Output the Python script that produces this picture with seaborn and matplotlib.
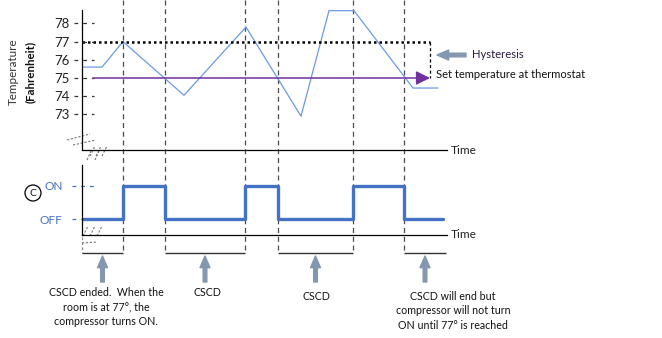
import matplotlib
matplotlib.use("Agg")
import matplotlib.pyplot as plt
import seaborn as sns
import pandas as pd
from matplotlib.patches import Circle

sns.set_theme(style="white")
plt.rcParams['font.family'] = ['Lato', 'DejaVu Sans']

# ---------------- data ----------------
temp_time = [0, 20, 41, 102, 164, 219, 247, 272, 331, 356]
temp_vals = [75.6, 75.6, 77.0, 74.05, 77.8, 72.9, 78.7, 78.7, 74.45, 74.45]
temp_ticks = [73, 74, 75, 76, 77, 78]
set_temp = 75
upper_temp = 77
setline_start, setline_end = 11, 348

switch_times = [41, 83, 163, 196, 271, 322]
comp_time = [0, 41, 83, 163, 196, 271, 322, 361]
comp_state = [0, 1, 0, 1, 0, 1, 0, 0]
state_labels = ["OFF", "ON"]

cscd_windows = [(0, 41), (83, 163), (196, 271), (322, 364)]
notes = ["CSCD ended.  When the\nroom is at 77°, the\ncompressor turns ON.",
         "CSCD", "CSCD",
         "CSCD will end but\ncompressor will not turn\nON until 77° is reached"]
note_x = [24, 125, 234, 371]
note_y = [307, 293, 297, 311]

W, H = 662, 338
X0 = 82          # pixel of time zero
TMAX = 365

fig = plt.figure(figsize=(W / 100, H / 100), dpi=100)
fig.patch.set_facecolor("white")

# overlay axes in (time, pixel-y) coordinates
ov = fig.add_axes([0, 0, 1, 1])
ov.set_xlim(-X0, W - X0)
ov.set_ylim(H, 0)
ov.axis("off")

def pxbox(top, bottom):
    return [X0 / W, 1 - bottom / H, TMAX / W, (bottom - top) / H]

ARROW = "simple,head_width=0.6,head_length=0.7,tail_width=0.22"

# ---------------- temperature panel ----------------
ax1 = fig.add_axes(pxbox(5, 150))
ax1.set_facecolor("none")
px_per_deg = 18.2
ax1.set_xlim(0, TMAX)
ax1.set_ylim(set_temp - (150 - 78) / px_per_deg, set_temp + (78 - 5) / px_per_deg)
df_t = pd.DataFrame({"time": temp_time, "temp": temp_vals})
sns.lineplot(data=df_t, x="time", y="temp", ax=ax1, color="#6A9BE0", lw=0.9, sort=False)
ax1.plot([0, setline_end], [upper_temp, upper_temp], color="black",
         ls=(0, (1, 1.2)), lw=1.8)
ax1.plot([setline_end, setline_end], [upper_temp, set_temp], color="black",
         ls=(0, (2.5, 2)), lw=0.9)
ax1.annotate("", xy=(setline_end, set_temp), xytext=(setline_start, set_temp),
             arrowprops=dict(arrowstyle="-|>,head_length=0.7,head_width=0.35", color="#7030A0",
                             lw=1.1, shrinkA=0, shrinkB=0))
for s in ["top", "right"]:
    ax1.spines[s].set_visible(False)
for s in ["left", "bottom"]:
    ax1.spines[s].set_color("black")
    ax1.spines[s].set_linewidth(0.9)
ax1.spines["left"].set_bounds(ax1.get_ylim()[0], set_temp + (78 - 10) / px_per_deg)
ax1.set_yticks(temp_ticks)
ax1.set_yticklabels([str(t) for t in temp_ticks])
ax1.tick_params(axis="y", length=0, pad=9, labelsize=9.5, labelcolor="#222222")
ax1.set_xticks([])
ax1.set_xlabel("")
ax1.set_ylabel("")
ytr = ax1.get_yaxis_transform()
ax1.hlines(temp_ticks, -8 / TMAX, 12 / TMAX, transform=ytr, colors="#333333",
           lw=0.9, linestyles=(0, (3, 4)), clip_on=False)
ax1.text(TMAX + 4, ax1.get_ylim()[0], "Time", fontsize=8.6, va="center", ha="left",
         color="#222222")

# ---------------- compressor panel ----------------
ax2 = fig.add_axes(pxbox(165, 235))
ax2.set_facecolor("none")
px_per_state = 33
ax2.set_xlim(0, TMAX)
ax2.set_ylim(0 - (235 - 219) / px_per_state, 1 + (186 - 165) / px_per_state)
df_c = pd.DataFrame({"time": comp_time, "state": comp_state})
sns.lineplot(data=df_c, x="time", y="state", ax=ax2, color="#4472C4", lw=2.4,
             drawstyle="steps-post", sort=False)
for s in ["top", "right"]:
    ax2.spines[s].set_visible(False)
for s in ["left", "bottom"]:
    ax2.spines[s].set_color("black")
    ax2.spines[s].set_linewidth(0.9)
ax2.set_yticks([0, 1])
ax2.set_yticklabels(state_labels)
ax2.tick_params(axis="y", length=0, pad=14, labelsize=8.6, labelcolor="#4472C4")
ax2.set_xticks([])
ax2.set_xlabel("")
ax2.set_ylabel("")
ytr2 = ax2.get_yaxis_transform()
ax2.hlines([0, 1], -10 / TMAX, 14 / TMAX, transform=ytr2, colors="#4472C4",
           lw=0.9, linestyles=(0, (3, 4)), clip_on=False)
ax2.text(TMAX + 4, ax2.get_ylim()[0], "Time", fontsize=8.6, va="center", ha="left",
         color="#222222")

# ---------------- overlay decorations ----------------
ov.vlines(switch_times, 0, 253, colors="#4a4a4a", lw=0.9, linestyles=(0, (4, 3)))
ov.vlines([0], 237, 253, colors="#888888", lw=0.9, linestyles=(0, (2, 2)))
for a, b in cscd_windows:
    ov.hlines(253, a, b, colors="#333333", lw=1.0)
    m = (a + b) / 2
    ov.annotate("", xy=(m, 256), xytext=(m, 282),
                arrowprops=dict(arrowstyle=ARROW, color="#8497B0", shrinkA=0, shrinkB=0))
for txt, x, y in zip(notes, note_x, note_y):
    ov.text(x, y, txt, ha="center", va="center", fontsize=7.7, color="#111111",
            linespacing=1.35)

ov.annotate("", xy=(437 - X0, 55), xytext=(466 - X0, 55),
            arrowprops=dict(arrowstyle=ARROW, color="#8497B0", shrinkA=0, shrinkB=0))
ov.text(472 - X0, 54, "Hysteresis", fontsize=8.1, va="center", ha="left", color="#2a1a40")
ov.text(436 - X0, 75, "Set temperature at thermostat", fontsize=8.0, va="center", ha="left",
        color="#111111")

# axis labels
fig.text(13 / W, 1 - 72 / H, "Temperature", rotation=90, ha="center", va="center",
         fontsize=8.4, color="#333333")
fig.text(30 / W, 1 - 72 / H, "(Fahrenheit)", rotation=90, ha="center", va="center",
         fontsize=8.3, fontweight="bold", color="#111111")

# compressor symbol
ov.add_patch(Circle((33 - X0, 193), 8, fill=False, ec="black", lw=0.9))
ov.text(33 - X0, 193.5, "C", ha="center", va="center", fontsize=7.5, color="#111111")

# axis break marks
brk = dict(color="#777777", lw=0.8, ls=(0, (2, 1.5)))
ov.plot([67 - X0, 90 - X0], [140, 134], **brk)
ov.plot([73 - X0, 96 - X0], [145, 140], **brk)
for x in (90, 96, 102):
    ov.plot([x - X0, x + 5 - X0], [156, 146], **brk)
for x in (87, 95):
    ov.plot([x - X0, x + 4 - X0], [160, 151], **brk)
for x in (83, 90, 97):
    ov.plot([x - X0, x + 5 - X0], [236, 226], **brk)
ov.plot([82 - X0, 97 - X0], [243, 242], **brk)

fig.savefig("out.png", dpi=100)
